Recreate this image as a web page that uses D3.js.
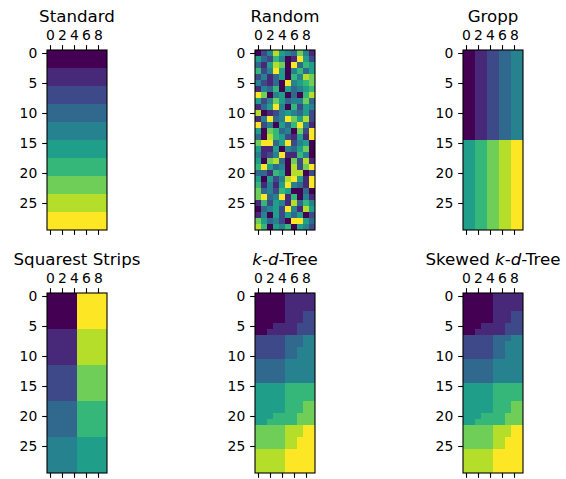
<!DOCTYPE html>
<html>
<head>
<meta charset="utf-8">
<script src="https://cdn.jsdelivr.net/npm/d3@7"></script>
<style>
  html, body { margin: 0; padding: 0; background: #ffffff; }
  svg { display: block; }
  text { font-family: "DejaVu Sans", sans-serif; fill: #000; }
</style>
</head>
<body>
<svg id="fig" width="566" height="479"></svg>
<script>
// Processor assignment per matrix cell: 30 rows x 10 columns, one digit per column.
const standard = [
  "0000000000","0000000000","0000000000",
  "1111111111","1111111111","1111111111",
  "2222222222","2222222222","2222222222",
  "3333333333","3333333333","3333333333",
  "4444444444","4444444444","4444444444",
  "5555555555","5555555555","5555555555",
  "6666666666","6666666666","6666666666",
  "7777777777","7777777777","7777777777",
  "8888888888","8888888888","8888888888",
  "9999999999","9999999999","9999999999"
];

const random = [
  "0248543741",
  "5326401952",
  "3158709365",
  "6249504635",
  "2413506487",
  "4213094567",
  "1436053456",
  "9704503068",
  "5247534473",
  "1359406254",
  "8012454352",
  "1493497582",
  "9240536941",
  "5076340729",
  "3086521519",
  "7993592450",
  "5115043570",
  "4124911640",
  "5078307281",
  "6953408279",
  "3316508802",
  "5052489519",
  "6141594319",
  "7342650030",
  "7934916041",
  "1625418364",
  "0345294185",
  "1405253502",
  "7534209953",
  "8605460542"
];

const gropp = [
  "0011223344","0011223344","0011223344","0011223344","0011223344",
  "0011223344","0011223344","0011223344","0011223344","0011223344",
  "0011223344","0011223344","0011223344","0011223344","0011223344",
  "5566778899","5566778899","5566778899","5566778899","5566778899",
  "5566778899","5566778899","5566778899","5566778899","5566778899",
  "5566778899","5566778899","5566778899","5566778899","5566778899"
];

const squarest = [
  "0000099999","0000099999","0000099999","0000099999","0000099999","0000099999",
  "1111188888","1111188888","1111188888","1111188888","1111188888","1111188888",
  "2222277777","2222277777","2222277777","2222277777","2222277777","2222277777",
  "3333366666","3333366666","3333366666","3333366666","3333366666","3333366666",
  "4444455555","4444455555","4444455555","4444455555","4444455555","4444455555"
];

const kdTree = [
  "0000011111","0000011111","0000011111",
  "0000011122","0000011122",
  "0001111222","0011111222",
  "2222233344","2222233344",
  "2222233444","2222233444",
  "3333344444","3333344444","3333344444","3333344444",
  "5555566666","5555566666","5555566666",
  "5555566677","5555566677",
  "5556666777","5566666777",
  "7777788899","7777788899",
  "7777788999","7777788999",
  "8888899999","8888899999","8888899999","8888899999"
];

const skewedKdTree = [
  "0000011111","0000011111","0000011111",
  "0000011122","0000011122",
  "0001111222","0011111222",
  "2222233344",
  "2222233444","2222233444","2222233444",
  "3333344444","3333344444","3333344444","3333344444",
  "5555566666","5555566666","5555566666",
  "5555566677","5555566677",
  "5556666777","5566666777",
  "7777788899","7777788899",
  "7777788999","7777788999",
  "8888899999","8888899999","8888899999","8888899999"
];

const xTicks = [0, 2, 4, 6, 8];
const yTicks = [0, 5, 10, 15, 20, 25];

const panels = [
  { title: [["Standard", false]], data: standard },
  { title: [["Random", false]], data: random },
  { title: [["Gropp", false]], data: gropp },
  { title: [["Squarest Strips", false]], data: squarest },
  { title: [["k", true], ["-", false], ["d", true], ["-Tree", false]], data: kdTree },
  { title: [["Skewed ", false], ["k", true], ["-", false], ["d", true], ["-Tree", false]], data: skewedKdTree }
];

const svg = d3.select("#fig");
svg.append("rect").attr("width", 566).attr("height", 479).attr("fill", "#fff");

const nCols = 10, nRows = 30, cell = 6;
const lefts = [47, 255, 463];
const tops = [50, 293];
const tickLen = 4.86, tickPad = 4.86;
const color = d3.scaleSequential(d3.interpolateViridis).domain([0, 9]);

const x = d3.scaleLinear().domain([-0.5, nCols - 0.5]).range([0, nCols * cell]);
const y = d3.scaleLinear().domain([-0.5, nRows - 0.5]).range([0, nRows * cell]);

panels.forEach((p, i) => {
  const g = svg.append("g")
    .attr("transform", `translate(${lefts[i % 3]},${tops[Math.floor(i / 3)]})`);

  const cells = [];
  p.data.forEach((row, r) => {
    row.split("").forEach((v, c) => cells.push({ r, c, v: +v }));
  });

  g.append("g").selectAll("rect").data(cells).join("rect")
    .attr("x", d => x(d.c - 0.5))
    .attr("y", d => y(d.r - 0.5))
    .attr("width", d => x(d.c + 0.5) - x(d.c - 0.5))
    .attr("height", d => y(d.r + 0.5) - y(d.r - 0.5))
    .attr("fill", d => color(d.v))
    .attr("shape-rendering", "crispEdges");

  // axes
  const top = g.append("g").call(d3.axisTop(x).tickValues(xTicks).tickSize(tickLen).tickPadding(tickPad));
  const bottom = g.append("g").attr("transform", `translate(0,${nRows * cell})`)
    .call(d3.axisBottom(x).tickValues(xTicks).tickSize(tickLen).tickFormat(""));
  const left = g.append("g").call(d3.axisLeft(y).tickValues(yTicks).tickSize(tickLen).tickPadding(tickPad));

  [top, bottom, left].forEach(a => {
    a.select(".domain").remove();
    a.selectAll(".tick line").attr("stroke", "#000").attr("stroke-width", 1.1);
    a.selectAll(".tick text").attr("font-family", "DejaVu Sans").attr("font-size", 13.9).attr("fill", "#000");
  });

  // frame
  g.append("rect")
    .attr("x", 0).attr("y", 0)
    .attr("width", nCols * cell).attr("height", nRows * cell)
    .attr("fill", "none").attr("stroke", "#000").attr("stroke-width", 1.1);

  // title
  const t = g.append("text")
    .attr("x", nCols * cell / 2)
    .attr("y", -28)
    .attr("text-anchor", "middle")
    .attr("font-size", 16.67);
  p.title.forEach(([s, it]) => {
    t.append("tspan").text(s).attr("font-style", it ? "italic" : "normal");
  });
});
</script>
</body>
</html>
